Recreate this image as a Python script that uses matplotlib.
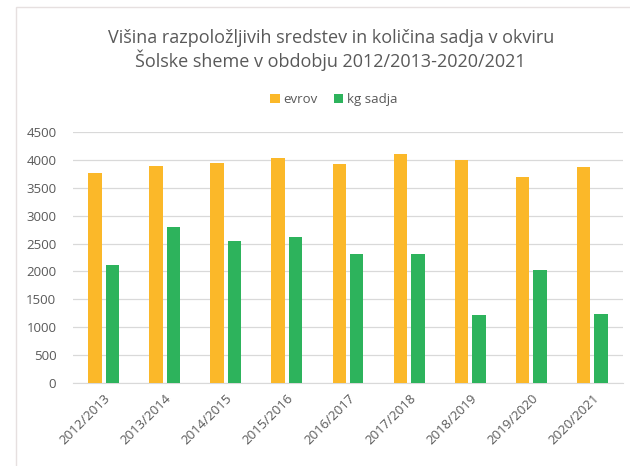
import numpy as np
import matplotlib.pyplot as plt
from matplotlib.patches import Rectangle

# Data
seasons = ['2012/2013', '2013/2014', '2014/2015', '2015/2016', '2016/2017',
           '2017/2018', '2018/2019', '2019/2020', '2020/2021']
evrov = [3770, 3890, 3935, 4025, 3920, 4095, 3995, 3685, 3865]
kg_sadja = [2115, 2800, 2550, 2610, 2310, 2310, 1225, 2025, 1240]
yticks = list(range(0, 4501, 500))

orange = '#FBB829'
green = '#2DB35C'
grey = '#595959'

plt.rcParams['font.family'] = ['Open Sans', 'DejaVu Sans']

fig = plt.figure(figsize=(6.3, 4.66), dpi=100)
ax = fig.add_axes([73 / 630, 1 - 383.3 / 466, 550 / 630, 251.6 / 466])

x = np.arange(len(seasons))
w = 0.22
ax.bar(x - 0.143, evrov, w, color=orange, label='evrov', zorder=3)
ax.bar(x + 0.143, kg_sadja, w, color=green, label='kg sadja', zorder=3)

ax.set_xlim(-0.5, len(seasons) - 0.5)
ax.set_ylim(0, 4500)
ax.set_yticks(yticks)
ax.set_xticks(x)
ax.set_xticklabels(seasons, rotation=45, ha='right', rotation_mode='anchor')
ax.tick_params(axis='both', length=0, colors=grey)
ax.tick_params(axis='y', pad=12, labelsize=9.5)
ax.tick_params(axis='x', pad=6, labelsize=9.5)
ax.grid(axis='y', color='#d9d9d9', linewidth=0.9, zorder=0)
for s in ['top', 'right', 'left']:
    ax.spines[s].set_visible(False)
ax.spines['bottom'].set_color('#d9d9d9')

fig.text(0.525, 0.918, 'Višina razpoložljivih sredstev in količina sadja v okviru',
         ha='center', va='center', fontsize=13, color=grey)
fig.text(0.525, 0.870, 'Šolske sheme v obdobju 2012/2013-2020/2021',
         ha='center', va='center', fontsize=13, color=grey)

fig.legend(loc='center', bbox_to_anchor=(0.53, 0.787), ncol=2, frameon=False,
           fontsize=9.5, labelcolor=grey, handlelength=0.7, handleheight=0.7,
           handletextpad=0.3, columnspacing=1.2)

# faint chart border
fig.patches.append(Rectangle((16 / 630, -0.1), 1.0, 1 - 7 / 466 + 0.1,
                             transform=fig.transFigure, fill=False,
                             edgecolor='#e6e0e0', linewidth=1.0))

fig.savefig('out.png', dpi=100)
